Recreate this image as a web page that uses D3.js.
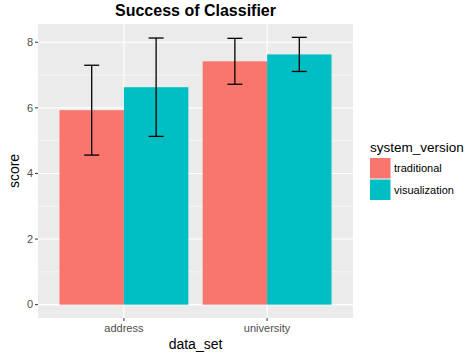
<!DOCTYPE html>
<html><head><meta charset="utf-8">
<script src="https://cdn.jsdelivr.net/npm/d3@7/dist/d3.min.js"></script>
<style>body{margin:0;background:#fff;} text{font-family:"Liberation Sans",Arial,sans-serif;}</style>
</head><body><svg id="c" width="467" height="356"></svg>
<script>
const categories = ["address", "university"];
const versions = ["traditional", "visualization"];
const traditional = [5.93, 7.42];
const visualization = [6.63, 7.63];
const trad_err = [1.37, 0.70];
const vis_err = [1.50, 0.52];
const yTicks = [0, 2, 4, 6, 8];
const colors = ["#F8766D", "#00BFC4"];

const svg = d3.select("#c");
const L = 38, R = 353, T = 24, B = 318;
const data = [];
categories.forEach((c, i) => {
  data.push({cat: c, ver: versions[0], v: traditional[i], e: trad_err[i]});
  data.push({cat: c, ver: versions[1], v: visualization[i], e: vis_err[i]});
});
const maxV = d3.max(data, d => d.v + d.e);
const minV = 0;
const pad = (maxV - minV) * 0.05;
const y = d3.scaleLinear().domain([minV - pad, maxV + pad]).range([B, T]);
// discrete x: positions 1..n, expanded by 0.6
const xc = d3.scaleLinear().domain([0.4, categories.length + 0.6]).range([L, R]);
const x = d3.scaleBand().domain(categories).range([xc(0.5), xc(categories.length + 0.5)]).paddingInner(0.1).paddingOuter(0.05);
const xs = d3.scaleBand().domain(versions).range([0, x.bandwidth()]);

svg.append("rect").attr("x", L).attr("y", T).attr("width", R - L).attr("height", B - T).attr("fill", "#EBEBEB");
const minor = [1, 3, 5, 7];
svg.append("g").selectAll("line").data(minor).join("line")
  .attr("x1", L).attr("x2", R).attr("y1", d => y(d)).attr("y2", d => y(d))
  .attr("stroke", "#fff").attr("stroke-width", 0.55);
svg.append("g").selectAll("line").data(yTicks).join("line")
  .attr("x1", L).attr("x2", R).attr("y1", d => y(d)).attr("y2", d => y(d))
  .attr("stroke", "#fff").attr("stroke-width", 1.1);
svg.append("g").selectAll("line").data(categories).join("line")
  .attr("x1", d => x(d) + x.bandwidth() / 2).attr("x2", d => x(d) + x.bandwidth() / 2)
  .attr("y1", T).attr("y2", B).attr("stroke", "#fff").attr("stroke-width", 1.1);

svg.append("g").selectAll("rect").data(data).join("rect")
  .attr("x", d => x(d.cat) + xs(d.ver))
  .attr("width", xs.bandwidth())
  .attr("y", d => y(d.v))
  .attr("height", d => y(0) - y(d.v))
  .attr("fill", d => colors[versions.indexOf(d.ver)]);

const ew = 7.5;
const eg = svg.append("g").attr("stroke", "#000").attr("stroke-width", 1.3).attr("fill", "none");
data.forEach(d => {
  const cx = x(d.cat) + xs(d.ver) + xs.bandwidth() / 2;
  eg.append("line").attr("x1", cx).attr("x2", cx).attr("y1", y(d.v + d.e)).attr("y2", y(d.v - d.e));
  eg.append("line").attr("x1", cx - ew).attr("x2", cx + ew).attr("y1", y(d.v + d.e)).attr("y2", y(d.v + d.e));
  eg.append("line").attr("x1", cx - ew).attr("x2", cx + ew).attr("y1", y(d.v - d.e)).attr("y2", y(d.v - d.e));
});

// y axis
const ya = svg.append("g");
yTicks.forEach(t => {
  ya.append("line").attr("x1", L - 3).attr("x2", L).attr("y1", y(t)).attr("y2", y(t)).attr("stroke", "#333").attr("stroke-width", 1);
  ya.append("text").attr("x", L - 5).attr("y", y(t)).attr("dy", "0.35em").attr("text-anchor", "end")
    .attr("font-size", 11).attr("fill", "#4D4D4D").text(t);
});
// x axis
const xa = svg.append("g");
categories.forEach(c => {
  const cx = x(c) + x.bandwidth() / 2;
  xa.append("line").attr("x1", cx).attr("x2", cx).attr("y1", B).attr("y2", B + 3).attr("stroke", "#333").attr("stroke-width", 1);
  xa.append("text").attr("x", cx).attr("y", B + 14).attr("text-anchor", "middle")
    .attr("font-size", 11).attr("fill", "#4D4D4D").text(c);
});
svg.append("text").attr("x", (L + R) / 2).attr("y", 349).attr("text-anchor", "middle").attr("font-size", 14).attr("fill", "#000").text("data_set");
svg.append("text").attr("transform", `translate(19,${(T + B) / 2}) rotate(-90)`).attr("text-anchor", "middle").attr("font-size", 14).attr("fill", "#000").text("score");
svg.append("text").attr("x", (L + R) / 2).attr("y", 16).attr("text-anchor", "middle").attr("font-size", 16).attr("font-weight", "bold").attr("fill", "#000").text("Success of Classifier");

// legend
const lg = svg.append("g");
lg.append("text").attr("x", 370).attr("y", 152).attr("font-size", 13.5).attr("fill", "#000").text("system_version");
versions.forEach((v, i) => {
  lg.append("rect").attr("x", 370).attr("y", 158 + i * 21.5).attr("width", 20.5).attr("height", 20.5).attr("fill", colors[i]);
  lg.append("text").attr("x", 394).attr("y", 168.5 + i * 21.5).attr("dy", "0.35em").attr("font-size", 11).attr("fill", "#000").text(v);
});
</script></body></html>
